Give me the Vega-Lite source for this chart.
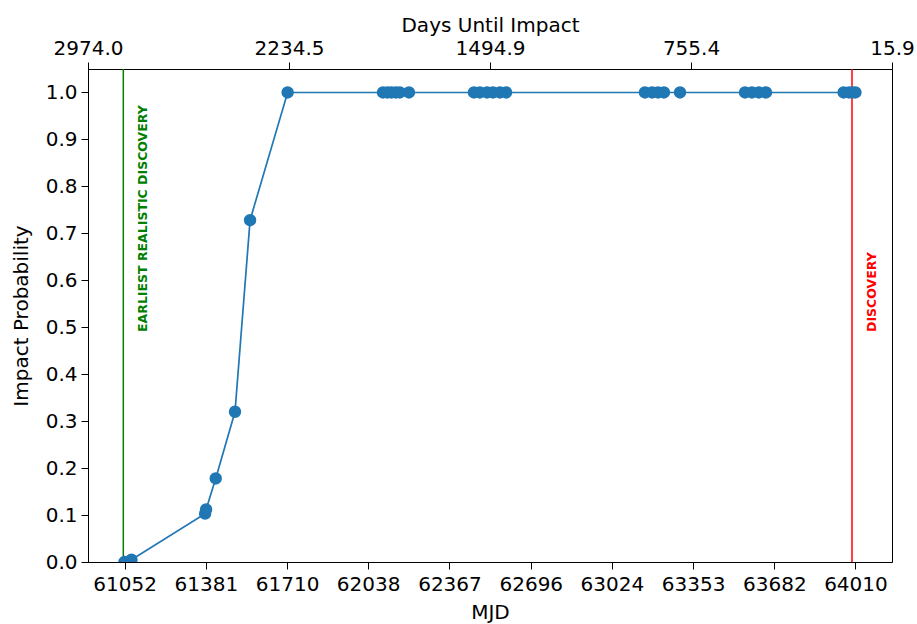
{
  "$schema": "https://vega.github.io/schema/vega-lite/v6.json",
  "width": 804,
  "height": 493,
  "autosize": "none",
  "padding": {"left": 88, "top": 69, "right": 25, "bottom": 62},
  "background": "white",
  "config": {
    "view": {"stroke": "black", "strokeWidth": 1},
    "font": "DejaVu Sans",
    "axis": {
      "labelFont": "DejaVu Sans",
      "titleFont": "DejaVu Sans",
      "labelFontSize": 20,
      "titleFontSize": 20,
      "titleFontWeight": "normal",
      "labelColor": "black",
      "titleColor": "black",
      "tickColor": "black",
      "domainColor": "black",
      "tickSize": 7,
      "grid": false
    }
  },
  "datasets": {
    "series": [
      {"mjd": 61052, "p": 0.0},
      {"mjd": 61080, "p": 0.005},
      {"mjd": 61378, "p": 0.103},
      {"mjd": 61382, "p": 0.112},
      {"mjd": 61421, "p": 0.178},
      {"mjd": 61499, "p": 0.32},
      {"mjd": 61560, "p": 0.728},
      {"mjd": 61712, "p": 1.0},
      {"mjd": 62098, "p": 1.0},
      {"mjd": 62116, "p": 1.0},
      {"mjd": 62132, "p": 1.0},
      {"mjd": 62150, "p": 1.0},
      {"mjd": 62166, "p": 1.0},
      {"mjd": 62203, "p": 1.0},
      {"mjd": 62466, "p": 1.0},
      {"mjd": 62490, "p": 1.0},
      {"mjd": 62519, "p": 1.0},
      {"mjd": 62543, "p": 1.0},
      {"mjd": 62571, "p": 1.0},
      {"mjd": 62596, "p": 1.0},
      {"mjd": 63158, "p": 1.0},
      {"mjd": 63187, "p": 1.0},
      {"mjd": 63211, "p": 1.0},
      {"mjd": 63235, "p": 1.0},
      {"mjd": 63300, "p": 1.0},
      {"mjd": 63563, "p": 1.0},
      {"mjd": 63591, "p": 1.0},
      {"mjd": 63619, "p": 1.0},
      {"mjd": 63648, "p": 1.0},
      {"mjd": 63962, "p": 1.0},
      {"mjd": 63984, "p": 1.0},
      {"mjd": 63998, "p": 1.0},
      {"mjd": 64010, "p": 1.0}
    ],
    "events": [
      {"mjd": 61047, "label": "EARLIEST REALISTIC DISCOVERY", "tx": 61127, "ty": 0.49, "color": "green"},
      {"mjd": 63996, "label": "DISCOVERY", "tx": 64077, "ty": 0.49, "color": "red"}
    ]
  },
  "resolve": {"axis": {"x": "independent", "y": "independent"}},
  "layer": [
    {
      "data": {"name": "events"},
      "mark": {"type": "rule", "strokeWidth": 1.5},
      "encoding": {
        "x": {
          "field": "mjd", "type": "quantitative",
          "scale": {"domain": [60904.1, 64157.9], "nice": false, "zero": false},
          "axis": {
            "orient": "top",
            "title": "Days Until Impact",
            "values": [60904.1, 61717.55, 62531, 63344.45, 64157.9],
            "labelExpr": "datum.value < 61400 ? '2974.0' : datum.value < 62000 ? '2234.5' : datum.value < 63000 ? '1494.9' : datum.value < 63800 ? '755.4' : '15.9'",
            "labelPadding": 4,
            "titlePadding": 3,
            "labelFlush": false,
            "labelOverlap": false
          }
        },
        "color": {"field": "color", "type": "nominal", "scale": null}
      }
    },
    {
      "data": {"name": "events"},
      "mark": {"type": "text", "angle": 270, "align": "left", "baseline": "middle", "fontWeight": "bold", "fontSize": 12.5, "font": "DejaVu Sans"},
      "encoding": {
        "x": {"field": "tx", "type": "quantitative", "axis": null},
        "y": {"field": "ty", "type": "quantitative", "axis": null},
        "text": {"field": "label"},
        "color": {"field": "color", "type": "nominal", "scale": null}
      }
    },
    {
      "data": {"name": "series"},
      "mark": {"type": "line", "color": "#1f77b4", "strokeWidth": 1.7, "clip": true},
      "encoding": {
        "x": {
          "field": "mjd", "type": "quantitative",
          "axis": {
            "orient": "bottom",
            "title": "MJD",
            "values": [61052, 61381, 61710, 62038, 62367, 62696, 63024, 63353, 63682, 64010],
            "format": "d",
            "labelPadding": 5,
            "titlePadding": 8,
            "labelFlush": false,
            "labelOverlap": false
          }
        },
        "y": {
          "field": "p", "type": "quantitative",
          "scale": {"domain": [0, 1.05], "nice": false, "zero": false},
          "axis": {
            "title": "Impact Probability",
            "values": [0, 0.1, 0.2, 0.3, 0.4, 0.5, 0.6, 0.7, 0.8, 0.9, 1.0],
            "format": ".1f",
            "labelPadding": 4,
            "titlePadding": 14,
            "labelFlush": false,
            "labelOverlap": false
          }
        }
      }
    },
    {
      "data": {"name": "series"},
      "mark": {"type": "circle", "color": "#1f77b4", "opacity": 1, "size": 154, "clip": true},
      "encoding": {
        "x": {"field": "mjd", "type": "quantitative", "axis": null},
        "y": {"field": "p", "type": "quantitative", "axis": null}
      }
    }
  ]
}
